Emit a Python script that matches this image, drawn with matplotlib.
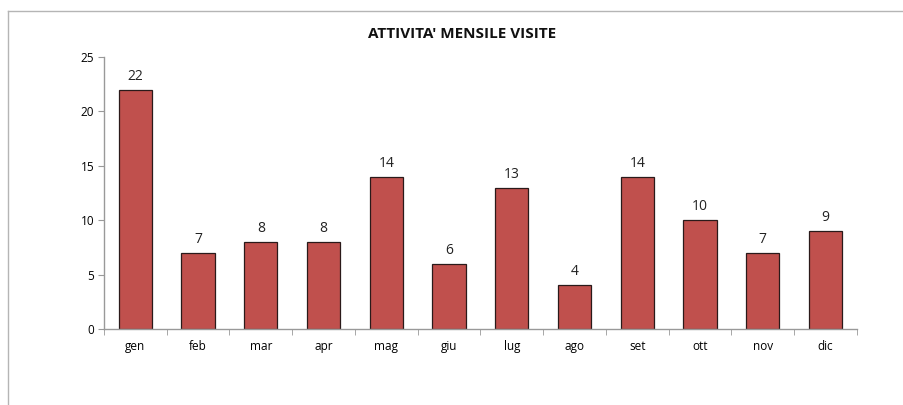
import matplotlib.pyplot as plt
from matplotlib.lines import Line2D
import numpy as np

months = ['gen', 'feb', 'mar', 'apr', 'mag', 'giu', 'lug', 'ago', 'set', 'ott', 'nov', 'dic']
visite = [22, 7, 8, 8, 14, 6, 13, 4, 14, 10, 7, 9]

plt.rcParams['font.family'] = ['Open Sans', 'DejaVu Sans']

fig = plt.figure(figsize=(9.04, 4.05), dpi=100)
ax = fig.add_axes([0.115, 0.1877, 0.833, 0.6713])

x = np.arange(len(months))
bars = ax.bar(x, visite, width=0.53, color='#C0504D', edgecolor='#2a1a1a', linewidth=0.9)
for xi, v in zip(x, visite):
    ax.text(xi, v + 0.55, str(v), ha='center', va='bottom', fontsize=10, color='#222222')

ax.set_xlim(-0.5, len(months) - 0.5)
ax.set_ylim(0, 25)
ax.set_yticks([0, 5, 10, 15, 20, 25])
ax.set_xticks(x)
ax.set_xticklabels(months, fontsize=8.5)
ax.set_xticks(np.arange(-0.5, len(months)), minor=True)
ax.tick_params(axis='x', which='major', length=0, pad=8)
ax.tick_params(axis='x', which='minor', length=4, color='#999999', direction='out')
ax.tick_params(axis='y', length=4, color='#999999', labelsize=8.5, pad=3)

for s in ['top', 'right']:
    ax.spines[s].set_visible(False)
for s in ['left', 'bottom']:
    ax.spines[s].set_color('#999999')
    ax.spines[s].set_linewidth(1)

fig.text(0.511, 0.916, "ATTIVITA' MENSILE VISITE", ha='center', va='center',
         fontsize=11, fontweight='bold', color='#111111')

# chart area border (only top and left visible)
fig.add_artist(Line2D([0.0088, 1], [0.973, 0.973], transform=fig.transFigure, color='#b5b5b5', lw=1))
fig.add_artist(Line2D([0.0088, 0.0088], [0, 0.973], transform=fig.transFigure, color='#b5b5b5', lw=1))

fig.savefig('out.png', dpi=100)
